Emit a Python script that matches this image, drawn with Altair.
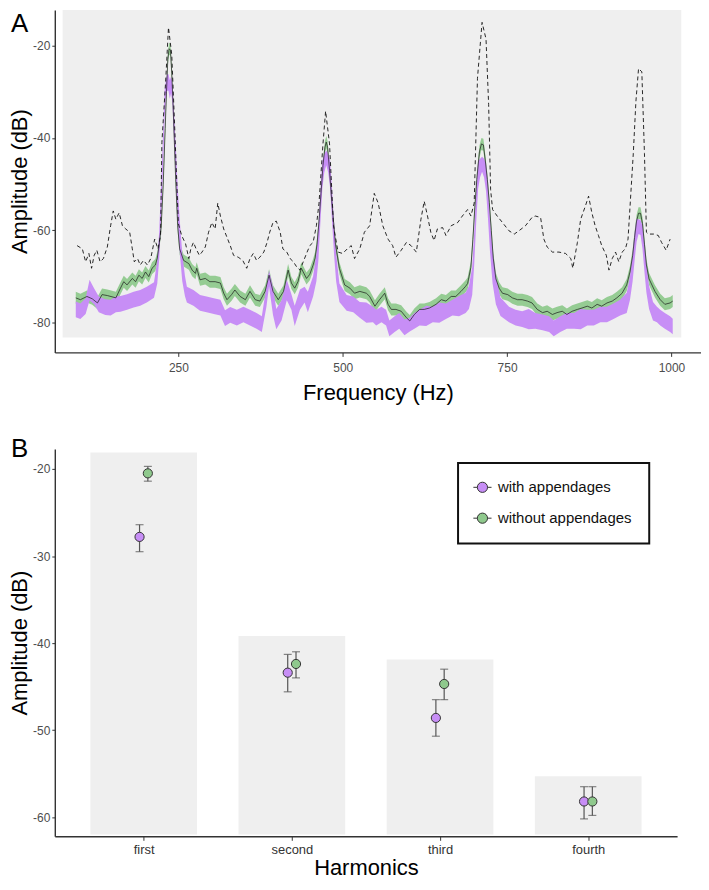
import json
import altair as alt
import pandas as pd

# ---------------- Panel A: spectra ----------------
green_freq = [94, 101, 111, 119, 127, 134, 142, 155, 162, 167,
              172, 180, 185, 190, 195, 200, 205, 210, 215, 218,
              221, 224, 227, 230, 232, 234, 236, 238, 240, 242,
              244, 246, 249, 252, 258, 266, 271, 276, 278, 283,
              291, 298, 306, 314, 319, 324, 331, 336, 344, 352,
              359, 367, 374, 382, 388, 394, 402, 410, 417, 422,
              427, 432, 437, 445, 450, 455, 458, 461, 464, 467,
              470, 473, 475, 477, 480, 483, 486, 489, 495, 503,
              511, 518, 526, 536, 541, 549, 556, 564, 569, 574,
              581, 589, 597, 602, 609, 617, 624, 632, 642, 650,
              657, 665, 672, 680, 687, 690, 695, 698, 701, 704,
              708, 711, 714, 717, 720, 723, 726, 729, 733, 738,
              743, 751, 758, 766, 773, 781, 788, 796, 804, 811,
              819, 826, 834, 841, 849, 857, 864, 872, 879, 887,
              894, 902, 910, 917, 925, 932, 937, 941, 944, 947,
              950, 953, 956, 959, 962, 966, 975, 983, 990, 998,
              1002]
green_mean = [-74.6, -75.0, -74.3, -74.8, -75.7, -73.9, -74.1, -74.6, -72.5, -71.1,
              -71.8, -70.4, -71.1, -69.7, -70.4, -69.0, -70.0, -68.2, -67.5, -66.0,
              -63.0, -59.0, -50.0, -38.0, -30.0, -23.0, -20.7, -21.0, -26.0, -33.0,
              -41.0, -49.0, -59.0, -64.0, -66.5, -67.2, -68.6, -69.3, -68.2, -70.7,
              -70.4, -71.1, -71.1, -71.4, -73.6, -75.0, -73.9, -72.9, -74.3, -75.0,
              -73.2, -75.0, -75.3, -73.2, -69.7, -73.2, -75.0, -73.2, -68.6, -71.4,
              -72.5, -71.1, -68.2, -70.4, -69.5, -67.5, -66.0, -63.0, -58.0, -52.0,
              -46.0, -42.0, -40.9, -42.0, -47.0, -53.0, -58.0, -63.0, -68.2, -71.8,
              -72.5, -73.6, -73.2, -73.6, -74.3, -76.4, -75.0, -73.6, -76.0, -77.1,
              -77.1, -77.5, -78.9, -79.6, -78.2, -77.1, -77.1, -76.8, -76.0, -75.0,
              -75.3, -74.3, -74.3, -73.2, -72.1, -71.5, -68.0, -62.0, -55.0, -49.0,
              -43.0, -41.3, -41.5, -45.0, -49.0, -54.0, -60.0, -66.0, -70.5, -72.5,
              -73.6, -73.9, -74.6, -75.0, -75.0, -75.3, -75.7, -77.1, -77.8, -77.5,
              -78.2, -77.8, -77.5, -78.2, -77.5, -77.1, -76.8, -76.4, -76.8, -76.0,
              -76.4, -75.7, -75.3, -74.6, -73.6, -71.8, -69.0, -65.5, -61.5, -58.0,
              -56.3, -56.3, -58.5, -63.0, -67.5, -70.5, -73.2, -75.0, -76.0, -75.7,
              -75.3]
GREEN_HALF_WIDTH = 1.3

purple_freq = [94, 101, 109, 115, 122, 129, 139, 147, 155, 162,
               172, 182, 192, 202, 213, 218, 221, 224, 227, 229,
               231, 233, 235, 237, 239, 241, 243, 246, 249, 252,
               256, 260, 263, 273, 283, 293, 304, 314, 321, 329,
               339, 349, 359, 369, 377, 384, 388, 394, 399, 407,
               415, 422, 427, 435, 442, 447, 455, 460, 463, 466,
               469, 472, 475, 478, 481, 484, 487, 490, 495, 506,
               516, 526, 536, 546, 551, 559, 566, 571, 579, 586,
               594, 602, 609, 617, 627, 637, 647, 657, 667, 677,
               687, 692, 697, 700, 703, 706, 709, 712, 715, 718,
               721, 724, 728, 733, 740, 753, 763, 773, 783, 793,
               804, 814, 821, 831, 841, 852, 862, 872, 882, 892,
               902, 912, 922, 932, 937, 941, 944, 947, 950, 953,
               956, 959, 962, 966, 972, 978, 983, 990, 998, 1002]
purple_mean = [-77.1, -77.5, -76.4, -72.9, -74.3, -76.0, -76.6, -76.7, -76.0, -75.9,
               -75.5, -75.0, -74.6, -73.9, -72.9, -69.0, -63.0, -53.0, -42.0, -33.0,
               -29.5, -28.0, -28.0, -29.5, -28.5, -30.5, -36.0, -45.0, -54.0, -61.0,
               -68.0, -72.0, -73.9, -74.6, -75.7, -76.0, -76.4, -76.7, -79.0, -78.3,
               -78.9, -78.2, -78.9, -79.6, -80.3, -74.3, -70.4, -75.3, -79.2, -77.3,
               -72.9, -75.5, -78.5, -75.0, -73.9, -75.5, -72.1, -68.0, -63.0, -55.0,
               -48.0, -45.5, -44.3, -45.5, -48.0, -55.0, -62.0, -68.0, -73.5, -75.7,
               -76.0, -77.2, -77.8, -78.2, -78.9, -78.2, -78.9, -81.2, -80.3, -79.6,
               -81.0, -80.4, -79.6, -78.9, -78.5, -78.2, -77.8, -77.5, -76.7, -76.4,
               -75.7, -74.5, -71.0, -64.0, -55.0, -48.0, -46.5, -45.7, -46.5, -48.5,
               -54.0, -61.0, -68.0, -73.0, -76.5, -78.2, -78.9, -79.2, -79.2, -79.6,
               -79.9, -80.3, -81.2, -80.3, -79.6, -79.6, -79.2, -78.9, -78.9, -78.2,
               -78.2, -77.5, -76.7, -75.7, -72.5, -68.0, -63.5, -60.0, -59.2, -59.4,
               -61.5, -66.0, -70.5, -74.5, -77.5, -78.2, -78.9, -79.6, -80.3, -80.8]
purple_half_width = [1.7, 1.7, 1.7, 2.2, 1.7, 1.7, 1.7, 1.7, 1.7, 1.7,
                     1.7, 1.7, 1.7, 1.7, 1.7, 2.5, 3.0, 3.5, 3.5, 3.0,
                     2.0, 1.8, 1.8, 2.0, 1.8, 2.0, 3.0, 3.5, 3.5, 3.5,
                     3.0, 2.2, 1.7, 1.7, 1.7, 1.7, 1.7, 1.7, 1.7, 1.7,
                     1.7, 1.7, 1.7, 1.7, 1.7, 2.2, 1.7, 3.0, 2.2, 2.2,
                     2.2, 1.7, 2.2, 2.2, 1.7, 2.2, 2.2, 3.0, 3.5, 3.5,
                     3.0, 2.0, 1.6, 2.0, 3.0, 3.5, 3.5, 3.0, 2.0, 1.7,
                     1.7, 1.7, 2.2, 1.7, 1.7, 1.7, 1.7, 1.7, 1.7, 1.7,
                     1.7, 1.5, 1.7, 1.7, 2.2, 1.7, 2.2, 1.7, 1.7, 2.2,
                     2.2, 2.5, 3.0, 3.5, 3.5, 3.0, 2.0, 1.6, 2.0, 3.0,
                     3.5, 3.5, 3.5, 3.0, 2.0, 1.7, 1.7, 1.7, 2.2, 1.7,
                     1.7, 1.7, 1.7, 1.7, 1.7, 1.7, 2.2, 1.7, 1.7, 1.7,
                     1.7, 1.7, 1.7, 2.2, 2.5, 3.0, 3.0, 2.5, 1.6, 1.6,
                     2.5, 3.0, 3.0, 2.5, 2.0, 1.7, 1.7, 1.7, 1.7, 1.7]

ref_freq = [96, 104, 109, 114, 118, 122, 126, 131, 136, 142,
            147, 151, 155, 160, 165, 170, 176, 180, 183, 188,
            192, 197, 203, 208, 214, 219, 223, 225, 231, 235,
            240, 244, 250, 255, 261, 266, 269, 273, 277, 282,
            286, 291, 296, 301, 306, 310, 314, 319, 324, 329,
            334, 341, 348, 354, 359, 364, 369, 374, 380, 385,
            389, 394, 399, 405, 409, 415, 420, 425, 430, 435,
            440, 445, 450, 455, 460, 464, 470, 474, 480, 486,
            493, 500, 507, 513, 518, 526, 533, 541, 548, 554,
            561, 569, 576, 581, 589, 597, 604, 612, 619, 624,
            629, 634, 639, 644, 652, 657, 665, 675, 682, 690,
            695, 700, 705, 712, 718, 722, 725, 728, 735, 743,
            753, 761, 768, 778, 788, 793, 801, 806, 811, 819,
            829, 839, 847, 850, 857, 862, 869, 874, 879, 884,
            889, 894, 901, 905, 910, 915, 920, 925, 930, 934,
            942, 946, 950, 955, 959, 962, 965, 973, 980, 985,
            992, 998]
ref_amp = [-63.3, -64.0, -66.8, -65.0, -68.2, -65.4, -64.3, -66.8, -66.1, -63.6,
           -59.0, -55.8, -57.6, -56.2, -59.0, -59.7, -60.4, -64.0, -66.8, -66.1,
           -67.5, -66.5, -67.5, -66.1, -61.9, -64.0, -61.1, -41.0, -27.0, -16.1,
           -22.0, -36.0, -58.5, -61.1, -62.9, -66.1, -64.0, -62.6, -64.0, -65.4,
           -64.7, -63.6, -60.4, -58.3, -59.7, -54.1, -56.9, -59.7, -61.5, -63.3,
           -65.4, -65.8, -66.5, -68.2, -66.1, -65.0, -66.5, -65.8, -64.7, -62.6,
           -60.4, -58.3, -58.0, -60.4, -64.0, -64.7, -66.1, -66.8, -67.9, -68.6,
           -66.8, -65.0, -63.3, -62.6, -59.0, -54.1, -41.3, -34.2, -41.3, -59.0,
           -64.7, -65.0, -64.0, -63.3, -66.1, -64.0, -60.4, -59.0, -52.0, -54.1,
           -59.0, -61.9, -63.3, -65.8, -64.3, -62.6, -63.3, -64.7, -57.6, -53.7,
           -56.9, -60.4, -62.2, -59.7, -59.4, -61.1, -59.0, -58.3, -56.9, -55.5,
           -56.9, -54.1, -27.1, -15.0, -18.6, -32.8, -51.2, -55.5, -56.9, -58.3,
           -60.1, -60.8, -60.1, -59.0, -57.2, -56.9, -57.2, -61.9, -63.6, -64.7,
           -64.7, -65.0, -66.1, -68.2, -62.6, -57.6, -54.8, -52.6, -56.2, -59.0,
           -61.1, -63.3, -65.4, -68.6, -66.1, -64.7, -66.8, -64.7, -64.0, -61.9,
           -43.4, -32.1, -25.0, -25.7, -43.4, -60.4, -60.8, -60.8, -61.1, -62.6,
           -64.3, -61.9]

# grey panel background extent (Hz, dB)
panel_x = [74, 1015]
panel_y = [-83.2, -12.3]

# ---------------- Panel B: harmonics ----------------
harmonics = ["first", "second", "third", "fourth"]
groups = ["with appendages", "without appendages"]
bar_top = [-18.1, -39.2, -41.9, -55.3]
bar_base = -62.0
with_mean = [-27.8, -43.4, -48.6, -58.2]
with_lo = [-29.5, -45.6, -50.7, -60.2]
with_hi = [-26.4, -41.3, -46.5, -56.5]
without_mean = [-20.5, -42.4, -44.7, -58.2]
without_lo = [-21.4, -44.0, -46.5, -59.8]
without_hi = [-19.7, -41.0, -43.0, -56.5]

PURPLE = "#C78EF6"
GREEN = "#8FC98D"
PANEL_GREY = "#EFEFEF"
TICK_FONT = "Liberation Sans Narrow, Liberation Sans, Arial"
TITLE_FONT = "Liberation Sans, Arial"
NEG_LABEL = "datum.value < 0 ? '-' + abs(datum.value) : '' + datum.value"

# ---------------- build panel A ----------------
g_df = pd.DataFrame({"f": green_freq, "m": green_mean})
g_df["lo"] = g_df["m"] - GREEN_HALF_WIDTH
g_df["hi"] = g_df["m"] + GREEN_HALF_WIDTH
p_df = pd.DataFrame({"f": purple_freq, "m": purple_mean, "hw": purple_half_width})
p_df["lo"] = p_df["m"] - p_df["hw"]
p_df["hi"] = p_df["m"] + p_df["hw"]
r_df = pd.DataFrame({"f": ref_freq, "m": ref_amp})
bg_df = pd.DataFrame({"x0": [panel_x[0]], "x1": [panel_x[1]],
                      "y0": [panel_y[0]], "y1": [panel_y[1]]})

xsA = alt.Scale(domain=[62.1, 1045], nice=False, zero=False)
ysA = alt.Scale(domain=[-86.4, -12.3], nice=False, zero=False)
xaxA = alt.Axis(values=[250, 500, 750, 1000], format="d", title="Frequency (Hz)",
                labelPadding=6, titlePadding=9, tickSize=4)
yaxA = alt.Axis(values=[-80, -60, -40, -20], labelExpr=NEG_LABEL,
                title="Amplitude (dB)", titlePadding=1, labelPadding=2, tickSize=3)

bg = alt.Chart(bg_df).mark_rect(color=PANEL_GREY).encode(
    x=alt.X("x0:Q", scale=xsA, axis=xaxA), x2="x1:Q",
    y=alt.Y("y0:Q", scale=ysA, axis=yaxA), y2="y1:Q")

green_band = alt.Chart(g_df).mark_area(color=GREEN, opacity=0.95).encode(
    x=alt.X("f:Q", scale=xsA, axis=xaxA),
    y=alt.Y("lo:Q", scale=ysA, axis=yaxA), y2="hi:Q")

purple_band = alt.Chart(p_df).mark_area(color=PURPLE, opacity=1).encode(
    x=alt.X("f:Q", scale=xsA, axis=xaxA),
    y=alt.Y("lo:Q", scale=ysA, axis=yaxA), y2="hi:Q")

green_line = alt.Chart(g_df).mark_line(color="#1a1a1a", strokeWidth=0.7).encode(
    x=alt.X("f:Q", scale=xsA, axis=xaxA),
    y=alt.Y("m:Q", scale=ysA, axis=yaxA))

ref_line = alt.Chart(r_df).mark_line(color="#111111", strokeWidth=0.9,
                                     strokeDash=[4, 3]).encode(
    x=alt.X("f:Q", scale=xsA, axis=xaxA),
    y=alt.Y("m:Q", scale=ysA, axis=yaxA))

label_A = alt.Chart(pd.DataFrame({"t": ["A"]})).mark_text(
    fontSize=26, font=TITLE_FONT, align="left", baseline="middle", color="#000000"
).encode(text="t:N", x=alt.value(-44), y=alt.value(14))

panelA = alt.layer(bg, green_band, purple_band, green_line, ref_line, label_A).properties(
    width=649, height=344)

# ---------------- build panel B ----------------
bars_df = pd.DataFrame({"idx": [1, 2, 3, 4], "harm": harmonics, "top": bar_top,
                        "base": [bar_base] * 4})
rows = []
for i, h in enumerate(harmonics):
    rows.append({"idx": i + 1, "harm": h, "group": groups[0],
                 "m": with_mean[i], "lo": with_lo[i], "hi": with_hi[i]})
    rows.append({"idx": i + 1, "harm": h, "group": groups[1],
                 "m": without_mean[i], "lo": without_lo[i], "hi": without_hi[i]})
pts_df = pd.DataFrame(rows)

xsB = alt.Scale(domain=[0.4, 4.6], nice=False, zero=False)
ysB = alt.Scale(domain=[-62.2, -17.7], nice=False, zero=False)
label_expr = json.dumps(harmonics) + "[datum.value - 1]"
xaxB = alt.Axis(values=[1, 2, 3, 4], labelExpr=label_expr, title="Harmonics",
                titlePadding=1, labelPadding=3, labelColor="#333333", labelFontSize=13,
                tickSize=4)
yaxB = alt.Axis(values=[-60, -50, -40, -30, -20], labelExpr=NEG_LABEL,
                title="Amplitude (dB)", titlePadding=1, labelPadding=2, tickSize=3)

bars = alt.Chart(bars_df).transform_calculate(
    xl="datum.idx - 0.36", xr="datum.idx + 0.36"
).mark_rect(color=PANEL_GREY).encode(
    x=alt.X("xl:Q", scale=xsB, axis=xaxB), x2="xr:Q",
    y=alt.Y("base:Q", scale=ysB, axis=yaxB), y2="top:Q")

dodge = alt.Chart(pts_df).transform_calculate(
    xp="datum.idx + (datum.group == 'with appendages' ? -0.028 : 0.028)")

err = dodge.mark_rule(color="#555555", strokeWidth=1.2).encode(
    x=alt.X("xp:Q", scale=xsB, axis=xaxB),
    y=alt.Y("lo:Q", scale=ysB, axis=yaxB), y2="hi:Q")

caps = dodge.transform_fold(["lo", "hi"], as_=["end", "val"]).mark_tick(
    orient="horizontal", size=8, thickness=1.2, color="#555555").encode(
    x=alt.X("xp:Q", scale=xsB, axis=xaxB),
    y=alt.Y("val:Q", scale=ysB, axis=yaxB))

legend_symbol = ("M-1.6,0L-0.9,0M0.9,0L1.6,0"
                 "M-0.9,0A0.9,0.9,0,1,1,0.9,0A0.9,0.9,0,1,1,-0.9,0Z")
points = dodge.mark_point(filled=True, shape="circle", size=85, stroke="#333333",
                          strokeWidth=1, opacity=1).encode(
    x=alt.X("xp:Q", scale=xsB, axis=xaxB),
    y=alt.Y("m:Q", scale=ysB, axis=yaxB),
    fill=alt.Fill("group:N", scale=alt.Scale(domain=groups, range=[PURPLE, GREEN]),
                  legend=alt.Legend(title=None, orient="none", legendX=405, legendY=14,
                                    symbolType=legend_symbol, symbolSize=130,
                                    symbolStrokeColor="#333333", symbolStrokeWidth=1,
                                    symbolOpacity=1,
                                    labelFontSize=15, labelFont=TITLE_FONT,
                                    labelColor="#111111", labelOffset=8,
                                    padding=17, rowPadding=15,
                                    strokeColor="#111111", fillColor="white")))

label_B = alt.Chart(pd.DataFrame({"t": ["B"]})).mark_text(
    fontSize=26, font=TITLE_FONT, align="left", baseline="middle", color="#000000"
).encode(text="t:N", x=alt.value(-44), y=alt.value(0))

panelB = alt.layer(bars, err, caps, points, label_B).properties(width=625, height=389)

chart = alt.vconcat(panelA, panelB, spacing=33).resolve_legend(
    fill="independent"
).properties(
    padding={"left": 0, "right": 0, "top": 0, "bottom": 0}
).configure_view(stroke=None).configure_axis(
    grid=False, domainColor="#333333", domainWidth=1.4, tickColor="#333333",
    labelFont=TICK_FONT, labelFontSize=12, labelColor="#4D4D4D",
    titleFont=TITLE_FONT, titleFontSize=22, titleFontWeight="normal",
    titleColor="#000000"
).configure_legend(strokeWidth=2)

chart.save("out.html", embed_options={"renderer": "svg", "actions": False})
